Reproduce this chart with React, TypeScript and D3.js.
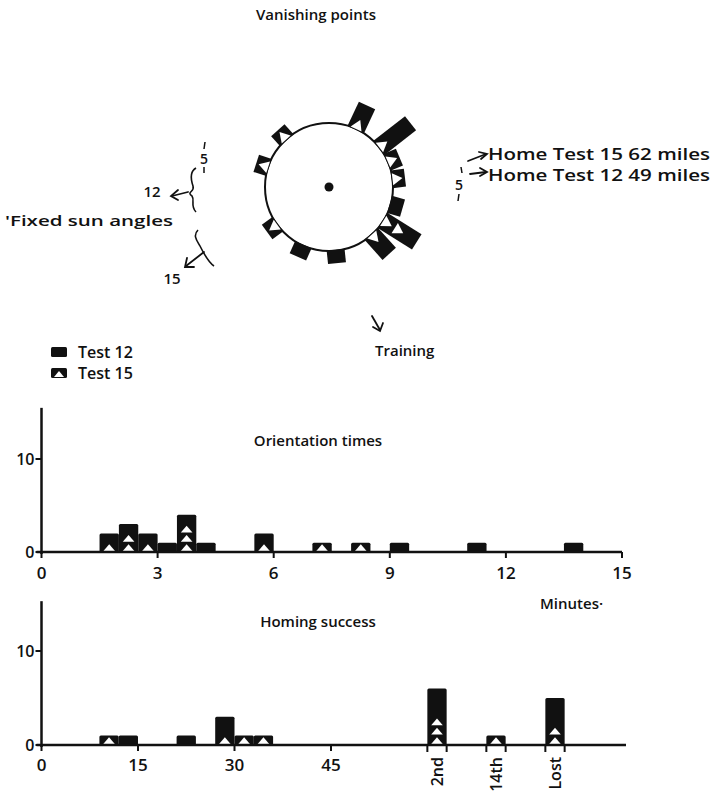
import React from "react";
import * as d3 from "d3";

// ---------- data ----------
// Vanishing points (bearing in degrees clockwise from the top of the circle)
const vanishAngles = [25, 52, 67, 83, 106, 122, 138, 174, 204, 234, 288, 318];
const vanishTest15 = [1, 1, 1, 1, 0, 2, 1, 0, 0, 1, 1, 1];
const vanishTest12 = [1, 2, 0, 0, 1, 1, 1, 1, 1, 0, 0, 0];

// Orientation times (minutes, bins of 0.5)
const orientBinStart = [1.5, 2, 2.5, 3, 3.5, 4, 5.5, 7, 8, 9, 11, 13.5];
const orientTest15 = [1, 2, 1, 0, 3, 0, 1, 1, 1, 0, 0, 0];
const orientTest12 = [1, 1, 1, 1, 1, 1, 1, 0, 0, 1, 1, 1];
const orientBinWidth = 0.5;
const orientTicks = [0, 3, 6, 9, 12, 15];

// Homing success (bins of 3)
const homingBinStart = [9, 12, 21, 27, 30, 33];
const homingTest15 = [1, 0, 0, 1, 1, 1];
const homingTest12 = [0, 1, 1, 2, 0, 0];
const homingBinWidth = 3;
const homingTicks = [0, 15, 30, 45];
const homingCats = ["2nd", "14th", "Lost"];
const homingCatTest15 = [3, 1, 2];
const homingCatTest12 = [3, 0, 3];

const yTicks = [0, 10];

const FONT = "'Open Sans', 'DejaVu Sans', sans-serif";
const INK = "#111";

function StackBar({ x0, x1, y, n15, n12 }: any) {
  const total = n15 + n12;
  const w = x1 - x0;
  const unit = y(0) - y(1);
  const tris = [];
  for (let k = 0; k < n15; k++) {
    const yb = y(k) - 1;
    const cx = (x0 + x1) / 2;
    const tw = w * 0.3;
    const th = unit * 0.72;
    tris.push(
      <path key={k} d={`M${cx - tw},${yb} L${cx},${yb - th} L${cx + tw},${yb} Z`} fill="#fff" />
    );
  }
  return (
    <g>
      <rect x={x0} y={y(total)} width={w} height={y(0) - y(total)} fill={INK} rx={1.5} />
      {tris}
    </g>
  );
}

function Polar() {
  const cx = 329, cy = 187, r0 = 64, unit = 13.5, bw = 18;
  return (
    <g>
      <circle cx={cx} cy={cy} r={r0} fill="#fff" stroke={INK} strokeWidth={2} />
      <circle cx={cx} cy={cy} r={4.5} fill={INK} />
      {vanishAngles.map((a, i) => {
        const n15 = vanishTest15[i], n12 = vanishTest12[i];
        const total = n15 + n12;
        const rs = d3.scaleLinear().domain([0, 1]).range([r0 - 1, r0 - 1 + unit]);
        const tris = [];
        for (let k = 0; k < n15; k++) {
          const yb = -rs(k) - 1;
          tris.push(
            <path key={k} d={`M${-6},${yb} L0,${yb - 10} L6,${yb} Z`} fill="#fff" />
          );
        }
        return (
          <g key={i} transform={`translate(${cx},${cy}) rotate(${a})`}>
            <rect x={-bw / 2} y={-rs(total)} width={bw} height={rs(total) - rs(0)} fill={INK} />
            {tris}
          </g>
        );
      })}
    </g>
  );
}

function Arrow({ d, head }: any) {
  return (
    <g fill="none" stroke={INK} strokeWidth={1.8} strokeLinecap="round">
      <path d={d} />
      <path d={head} />
    </g>
  );
}

export default function App() {
  // orientation chart scales
  const xO = d3.scaleLinear().domain([0, 15]).range([41.5, 622]);
  const yO = d3.scaleLinear().domain([0, 10]).range([552, 459]);
  // homing chart scales
  const xH = d3.scaleLinear().domain([0, 45]).range([41.5, 331]);
  const xC = d3.scalePoint().domain(homingCats).range([437, 555]);
  const yH = d3.scaleLinear().domain([0, 10]).range([745, 651]);
  const catW = xH(homingBinWidth) - xH(0);

  const txt = { fontFamily: FONT, fill: INK, fontWeight: 600 } as any;

  return (
    <svg width={712} height={797} style={{ position: "absolute", left: 0, top: 0, background: "#fff" }}>
      <rect width={712} height={797} fill="#fff" />
      {/* ---------- top: vanishing points ---------- */}
      <text x={316} y={20} textAnchor="middle" fontSize={15} {...txt}>Vanishing points</text>
      <Polar />

      {/* right annotation */}
      <Arrow d="M468,161 L486,154" head="M479,152 L487,154 L481,159" />
      <Arrow d="M470,174 L486,172" head="M480,168 L487,172 L480,176" />
      <text x={488} y={160} fontSize={16} {...txt} textLength={222} lengthAdjust="spacingAndGlyphs">Home Test 15  62 miles</text>
      <text x={488} y={181} fontSize={16} {...txt} textLength={222} lengthAdjust="spacingAndGlyphs">Home Test 12  49 miles</text>
      <path d="M461,167 L462,173" stroke={INK} strokeWidth={1.5} />
      <text x={459} y={190} fontSize={14} textAnchor="middle" {...txt}>5</text>
      <path d="M459,194 L458,201" stroke={INK} strokeWidth={1.5} />

      {/* left annotation */}
      <path d="M205,142 L204,149" stroke={INK} strokeWidth={1.5} />
      <text x={204} y={164} fontSize={14} textAnchor="middle" {...txt}>5</text>
      <path d="M204,167 L204,173" stroke={INK} strokeWidth={1.5} />
      <path d="M196,168 C189,172 191,180 193,186 C195,192 186,192 192,196 C195,200 190,206 196,212"
        fill="none" stroke={INK} strokeWidth={1.6} />
      <path d="M198,230 C192,236 198,242 200,246 C204,254 208,262 214,266"
        fill="none" stroke={INK} strokeWidth={1.6} />
      <Arrow d="M188,192 L172,196" head="M178,190 L171,196 L178,200" />
      <Arrow d="M204,252 L186,266" head="M187,258 L185,267 L194,267" />
      <text x={152} y={197} fontSize={15} textAnchor="middle" {...txt}>12</text>
      <text x={5} y={226} fontSize={15} {...txt} textLength={168} lengthAdjust="spacingAndGlyphs">'Fixed sun  angles</text>
      <text x={172} y={284} fontSize={15} textAnchor="middle" {...txt}>15</text>

      {/* training arrow */}
      <Arrow d="M372,316 L380,330" head="M373,327 L380,331 L383,323" />
      <text x={375} y={356} fontSize={15} {...txt}>Training</text>

      {/* legend */}
      <rect x={51} y={347} width={16} height={10} fill={INK} rx={1.5} />
      <text x={78} y={358} fontSize={16} {...txt}>Test 12</text>
      <rect x={51} y={368} width={16} height={10} fill={INK} rx={1.5} />
      <path d="M54,377 L59,371 L64,377 Z" fill="#fff" />
      <text x={78} y={379} fontSize={16} {...txt}>Test 15</text>

      {/* ---------- orientation times ---------- */}
      <text x={318} y={446} textAnchor="middle" fontSize={15} {...txt}>Orientation times</text>
      {orientBinStart.map((s, i) => (
        <StackBar key={i} x0={xO(s)} x1={xO(s + orientBinWidth)} y={yO}
          n15={orientTest15[i]} n12={orientTest12[i]} />
      ))}
      <line x1={xO(0)} x2={xO(0)} y1={yO(0) + 2} y2={yO(15.5)} stroke={INK} strokeWidth={2.5} />
      <line x1={xO(0) - 5} x2={xO(15)} y1={yO(0)} y2={yO(0)} stroke={INK} strokeWidth={2.5} />
      {orientTicks.map((t) => (
        <g key={t}>
          <line x1={xO(t)} x2={xO(t)} y1={yO(0)} y2={yO(0) + 6} stroke={INK} strokeWidth={2} />
          <text x={xO(t)} y={yO(0) + 27} textAnchor="middle" fontSize={17} {...txt}>{t}</text>
        </g>
      ))}
      {yTicks.map((t) => (
        <g key={t}>
          <line x1={xO(0) - 6} x2={xO(0)} y1={yO(t)} y2={yO(t)} stroke={INK} strokeWidth={2} />
          <text x={xO(0) - 7} y={yO(t) + 6} textAnchor="end" fontSize={16} {...txt}>{t}</text>
        </g>
      ))}
      <text x={540} y={609} fontSize={15} {...txt}>Minutes·</text>

      {/* ---------- homing success ---------- */}
      <text x={318} y={627} textAnchor="middle" fontSize={15} {...txt}>Homing success</text>
      {homingBinStart.map((s, i) => (
        <StackBar key={i} x0={xH(s)} x1={xH(s + homingBinWidth)} y={yH}
          n15={homingTest15[i]} n12={homingTest12[i]} />
      ))}
      {homingCats.map((c, i) => (
        <StackBar key={c} x0={(xC(c) as number) - catW / 2} x1={(xC(c) as number) + catW / 2} y={yH}
          n15={homingCatTest15[i]} n12={homingCatTest12[i]} />
      ))}
      <line x1={xH(0)} x2={xH(0)} y1={yH(0) + 2} y2={yH(15.3)} stroke={INK} strokeWidth={2.5} />
      <line x1={xH(0) - 5} x2={626} y1={yH(0)} y2={yH(0)} stroke={INK} strokeWidth={2.5} />
      {homingTicks.map((t) => (
        <g key={t}>
          <line x1={xH(t)} x2={xH(t)} y1={yH(0)} y2={yH(0) + 6} stroke={INK} strokeWidth={2} />
          <text x={xH(t)} y={yH(0) + 26} textAnchor="middle" fontSize={17} {...txt}>{t}</text>
        </g>
      ))}
      {homingCats.map((c) => {
        const x = xC(c) as number;
        return (
          <g key={c}>
            <line x1={x - catW / 2} x2={x - catW / 2} y1={yH(0)} y2={yH(0) + 7} stroke={INK} strokeWidth={2} />
            <line x1={x + catW / 2} x2={x + catW / 2} y1={yH(0)} y2={yH(0) + 7} stroke={INK} strokeWidth={2} />
            <text transform={`translate(${x},${yH(0) + 12}) rotate(-90)`} textAnchor="end"
              dominantBaseline="central" fontSize={16} {...txt}>{c}</text>
          </g>
        );
      })}
      {yTicks.map((t) => (
        <g key={t}>
          <line x1={xH(0) - 6} x2={xH(0)} y1={yH(t)} y2={yH(t)} stroke={INK} strokeWidth={2} />
          <text x={xH(0) - 7} y={yH(t) + 6} textAnchor="end" fontSize={16} {...txt}>{t}</text>
        </g>
      ))}
    </svg>
  );
}
